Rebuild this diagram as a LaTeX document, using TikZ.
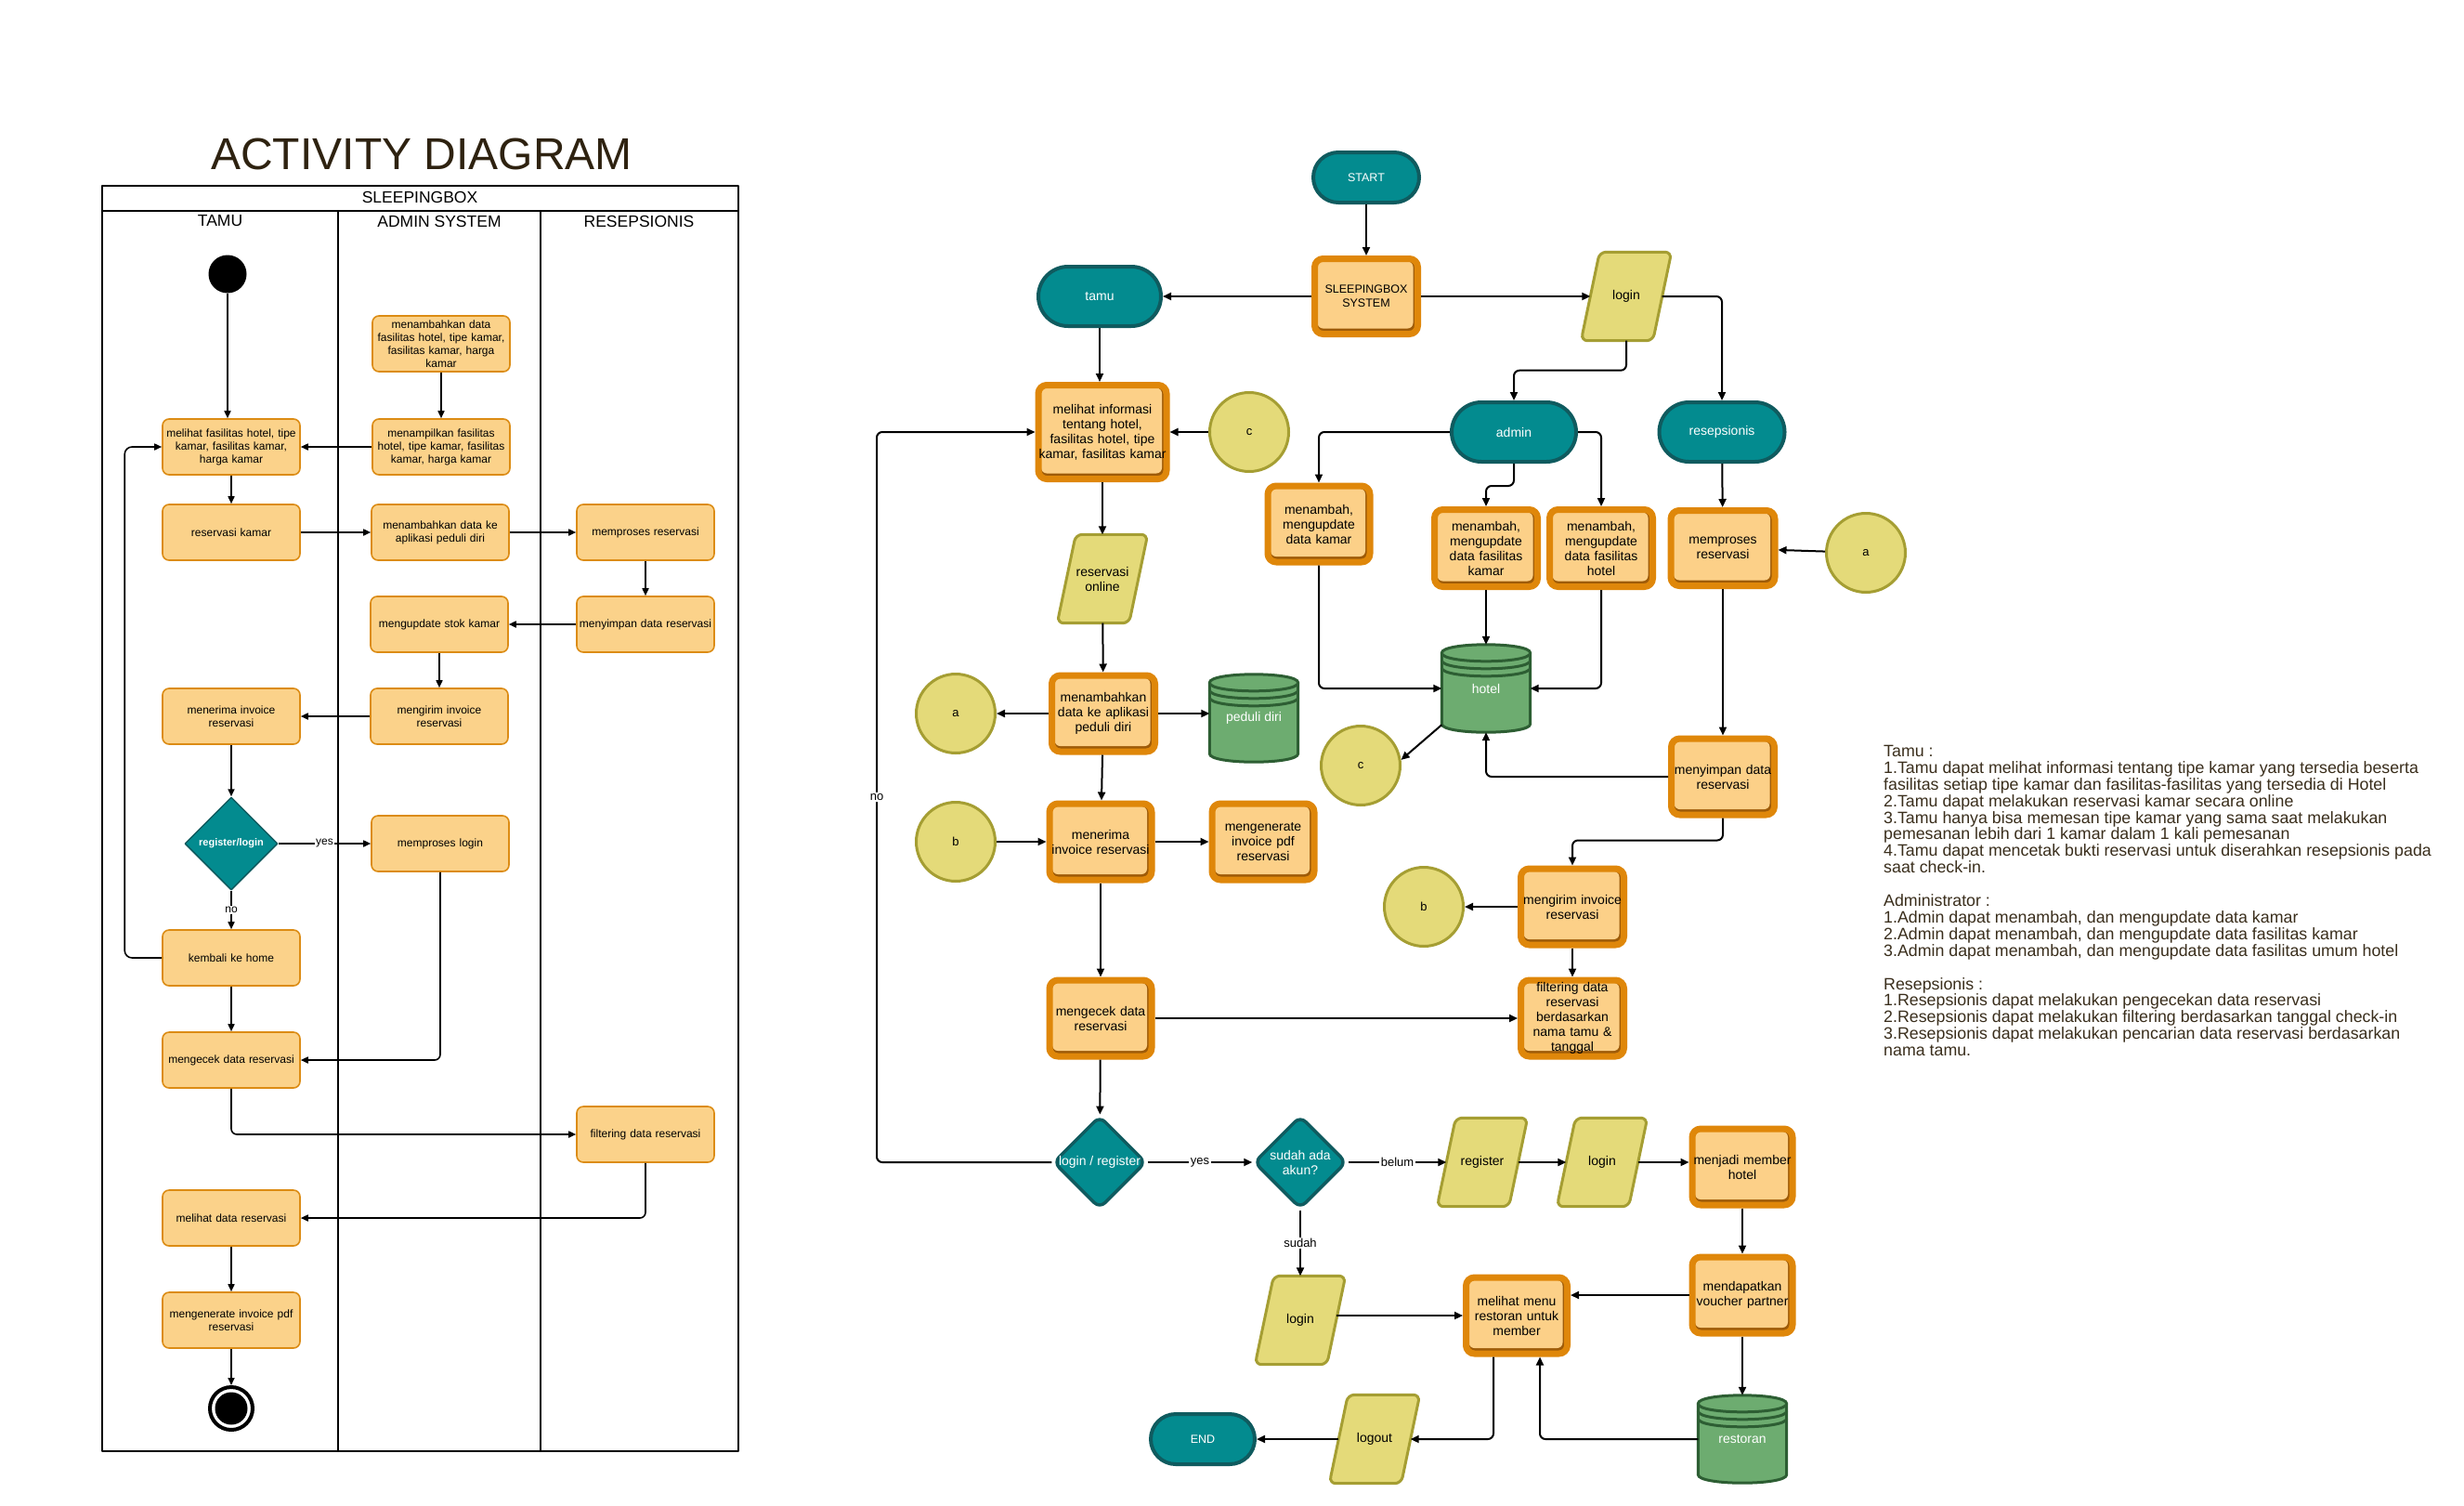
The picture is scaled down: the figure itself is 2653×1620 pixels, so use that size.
\documentclass[tikz,border=0pt]{standalone}
\usepackage{fontspec}
\setmainfont{Liberation Sans}
\usetikzlibrary{arrows.meta,shapes.geometric,calc,backgrounds}

\definecolor{actFill}{HTML}{FBD28A}
\definecolor{actLine}{HTML}{DC8C14}
\definecolor{boxFill}{HTML}{FCD088}
\definecolor{boxLine}{HTML}{DF870A}
\definecolor{boxShade}{HTML}{9E5B08}
\definecolor{tealFill}{HTML}{038B8F}
\definecolor{tealLine}{HTML}{0F5B5F}
\definecolor{ylwFill}{HTML}{E4DA79}
\definecolor{ylwLine}{HTML}{A59E33}
\definecolor{grnFill}{HTML}{6DAC70}
\definecolor{grnLine}{HTML}{2D5E33}
\definecolor{titleCol}{HTML}{2E2210}
\definecolor{noteCol}{HTML}{3A2E1C}

\newcommand\FontLeft{\fontsize{12}{14}\selectfont}
\newcommand\FontRight{\fontsize{14}{16}\selectfont}

\tikzset{
  act/.style={draw=actLine, line width=1.6pt, fill=actFill, rounded corners=7pt,
    text width=148pt, minimum height=60pt, inner sep=0pt, align=center, font=\FontLeft},
  obox/.style 2 args={fill=boxFill, draw=boxLine, line width=7pt, rounded corners=9pt,
    inner sep=0pt, align=center, text width=#1pt, minimum height=#2pt, font=\FontRight,
    path picture={
      \fill[boxShade, rounded corners=6pt]
        ([shift={(3pt,3pt)}]path picture bounding box.south west) rectangle
        ([shift={(-3pt,-3pt)}]path picture bounding box.north east);
      \fill[boxFill, rounded corners=6pt]
        ([shift={(3pt,6pt)}]path picture bounding box.south west) rectangle
        ([shift={(-5pt,-3pt)}]path picture bounding box.north east);}},
  terminal/.style n args={3}{fill=tealFill, draw=tealLine, line width=4pt, text=white,
    inner sep=0pt, minimum width=#1pt, minimum height=#2pt, rounded corners=#3pt, font=\FontRight},
  conn/.style={circle, fill=ylwFill, draw=ylwLine, line width=3pt, minimum size=85pt,
    inner sep=0pt, font=\fontsize{13}{15}\selectfont},
  rdia/.style={diamond, aspect=1, fill=tealFill, draw=tealLine, line width=3.5pt,
    rounded corners=8pt, minimum width=100pt, minimum height=100pt, inner sep=0pt},
  diatext/.style={text=white, align=center, font=\FontRight, inner sep=0pt},
  ldia/.style={diamond, aspect=1, fill=tealFill, draw=tealLine, line width=1.5pt,
    minimum width=100pt, minimum height=100pt, inner sep=0pt, text=white,
    font=\fontsize{11}{13}\selectfont\bfseries},
  slantnode/.style={minimum width=77pt, minimum height=95pt, inner sep=0pt, align=center, font=\FontRight},
  slantline/.style={fill=ylwFill, draw=ylwLine, line width=3pt, rounded corners=7pt},
  dbnode/.style={minimum width=95pt, minimum height=94pt, inner sep=0pt, text=white, font=\FontRight},
  dbbody/.style={fill=grnFill, draw=grnLine, line width=3pt},
  dbring/.style={draw=grnLine, line width=3pt},
  larr/.style={draw=black, line width=1.6pt, -{Triangle[length=8pt,width=7pt]}},
  rarr/.style={draw=black, line width=2pt, -{Triangle[length=9pt,width=8pt]}},
  rc/.style={rounded corners=6pt},
  lbl/.style={fill=white, inner sep=1.5pt, font=\fontsize{12}{14}\selectfont},
  rlbl/.style={fill=white, inner sep=1.5pt, font=\fontsize{13}{15}\selectfont},
  pool/.style={draw=black, line width=2pt},
}

% slanted data box drawn behind a named node
\newcommand\slantbox[1]{%
  \begin{pgfonlayer}{background}
    \draw[slantline] ($(#1.north west)+(10,0)$) -- ($(#1.north east)+(10,0)$)
      -- ($(#1.south east)+(-10,0)$) -- ($(#1.south west)+(-10,0)$) -- cycle;
  \end{pgfonlayer}}

% stacked data store drawn behind a named node
\newcommand\dbcyl[1]{%
  \begin{pgfonlayer}{background}
    \path[dbbody] ($(#1.north west)+(0,9)$) -- ($(#1.south west)+(0,-9)$)
      .. controls +(0,12) and +(0,12) .. ($(#1.south east)+(0,-9)$)
      -- ($(#1.north east)+(0,9)$)
      .. controls +(0,-12) and +(0,-12) .. ($(#1.north west)+(0,9)$) -- cycle;
    \draw[dbring] ($(#1.north west)+(0,9)$) .. controls +(0,12) and +(0,12) .. ($(#1.north east)+(0,9)$);
    \draw[dbring] ($(#1.north west)+(0,17)$) .. controls +(0,12) and +(0,12) .. ($(#1.north east)+(0,17)$);
    \draw[dbring] ($(#1.north west)+(0,25)$) .. controls +(0,12) and +(0,12) .. ($(#1.north east)+(0,25)$);
  \end{pgfonlayer}}

\begin{document}
\begin{tikzpicture}[x=1pt, y=-1pt, line join=round]
\begin{pgfonlayer}{background}
  \fill[white] (0,0) rectangle (2653,1620);
\end{pgfonlayer}
\useasboundingbox (0,0) rectangle (2653,1620);

%% ---------------- activity diagram ----------------
\node[text=titleCol, font=\fontsize{48}{54}\selectfont, inner sep=0pt] (title) at (454,166) {ACTIVITY DIAGRAM};

\draw[pool] (110,200) rectangle (795,1562);
\draw[pool] (110,227) -- (795,227);
\draw[pool] (364,227) -- (364,1562);
\draw[pool] (582,227) -- (582,1562);
\node[font=\fontsize{17.5}{20}\selectfont, inner sep=0pt] (poolName) at (452,212) {SLEEPINGBOX};
\node[font=\fontsize{17.5}{20}\selectfont, inner sep=0pt] (laneTamu) at (237,238) {TAMU};
\node[font=\fontsize{17.5}{20}\selectfont, inner sep=0pt] (laneAdmin) at (473,238) {ADMIN SYSTEM};
\node[font=\fontsize{17.5}{20}\selectfont, inner sep=0pt] (laneResep) at (688,238) {RESEPSIONIS};

\node[circle, fill=black, minimum size=41pt, inner sep=0pt] (lStart) at (245,295) {};
\node[act] (lA1) at (249,481) {melihat fasilitas hotel, tipe\\kamar, fasilitas kamar,\\harga kamar};
\node[act] (lA2) at (249,573) {reservasi kamar};
\node[act] (lB0) at (475,370) {menambahkan data\\fasilitas hotel, tipe kamar,\\fasilitas kamar, harga\\kamar};
\node[act] (lB1) at (475,481) {menampilkan fasilitas\\hotel, tipe kamar, fasilitas\\kamar, harga kamar};
\node[act] (lB2) at (474,573) {menambahkan data ke\\aplikasi peduli diri};
\node[act] (lC1) at (695,573) {memproses reservasi};
\node[act] (lC2) at (695,672) {menyimpan data reservasi};
\node[act] (lB3) at (473,672) {mengupdate stok kamar};
\node[act] (lB4) at (473,771) {mengirim invoice\\reservasi};
\node[act] (lA3) at (249,771) {menerima invoice\\reservasi};
\node[ldia] (lD) at (249,908) {register/login};
\node[act] (lB5) at (474,908) {memproses login};
\node[act] (lA4) at (249,1031) {kembali ke home};
\node[act] (lA5) at (249,1141) {mengecek data reservasi};
\node[act] (lC3) at (695,1221) {filtering data reservasi};
\node[act] (lA6) at (249,1311) {melihat data reservasi};
\node[act] (lA7) at (249,1421) {mengenerate invoice pdf\\reservasi};
\node[circle, draw=black, line width=4pt, fill=white, minimum size=46pt, inner sep=0pt] (lEnd) at (249,1516) {};
\fill[black] (lEnd.center) circle[radius=17.5pt];

\draw[larr] (lStart) -- (lStart |- lA1.north);
\draw[larr] (lB0) -- (lB1);
\draw[larr] (lB1) -- (lA1);
\draw[larr] (lA1) -- (lA2);
\draw[larr] (lA2) -- (lB2);
\draw[larr] (lB2) -- (lC1);
\draw[larr] (lC1) -- (lC2);
\draw[larr] (lC2) -- (lB3);
\draw[larr] (lB3) -- (lB4);
\draw[larr] (lB4) -- (lA3);
\draw[larr] (lA3) -- (lD);
\draw[larr] (lD) -- node[lbl] {yes} (lB5);
\draw[larr] (lD) -- node[lbl] {no} (lA4);
\draw[larr, rounded corners=8pt] (lA4.west) -- ++(-40,0) |- (lA1.west);
\draw[larr] (lA4) -- (lA5);
\draw[larr, rc] (lB5.south) |- (lA5.east);
\draw[larr, rc] (lA5.south) |- (lC3.west);
\draw[larr, rc] (lC3.south) |- (lA6.east);
\draw[larr] (lA6) -- (lA7);
\draw[larr] (lA7) -- (lEnd);

%% ---------------- system flowchart ----------------
\node[terminal={114}{54}{27}, font=\fontsize{12.5}{15}\selectfont] (start) at (1471,191) {START};
\node[obox={111}{81}, font=\fontsize{12.5}{15}\selectfont] (sleep) at (1471,319) {SLEEPINGBOX\\SYSTEM};
\node[terminal={132}{64}{32}] (tamu) at (1184,319) {tamu};
\node[slantnode] (login1) at (1751,319) {login};
\node[obox={138}{101}] (melihat) at (1187,465) {melihat informasi\\tentang hotel,\\fasilitas hotel, tipe\\kamar, fasilitas kamar};
\node[conn] (cTop) at (1345,465) {c};
\node[slantnode] (resOnline) at (1187,623) {reservasi\\online};
\node[terminal={134}{64}{32}] (admin) at (1630,465) {admin};
\node[terminal={135}{64}{32}] (resep) at (1854,465) {resepsionis};
\node[obox={110}{82}] (mKamar) at (1420,564) {menambah,\\mengupdate\\data kamar};
\node[obox={111}{83}] (mFasK) at (1600,590) {menambah,\\mengupdate\\data fasilitas\\kamar};
\node[obox={111}{83}] (mFasH) at (1724,590) {menambah,\\mengupdate\\data fasilitas\\hotel};
\node[obox={112}{81}] (proses) at (1855,590) {memproses\\reservasi};
\node[conn] (aR) at (2009,595) {a};
\node[dbnode] (hotel) at (1600,741) {hotel};
\node[dbnode] (peduli) at (1350,773) {peduli diri};
\node[conn] (cMid) at (1465,824) {c};
\node[obox={111}{82}] (simpan) at (1855,836) {menyimpan data\\reservasi};
\node[obox={111}{82}] (kirim) at (1693,976) {mengirim invoice\\reservasi};
\node[conn] (bR) at (1533,976) {b};
\node[obox={111}{82}] (filterR) at (1693,1096) {filtering data\\reservasi\\berdasarkan\\nama tamu \&\\tanggal};
\node[obox={111}{82}] (tambahApp) at (1188,768) {menambahkan\\data ke aplikasi\\peduli diri};
\node[conn] (aL) at (1029,768) {a};
\node[conn] (bL) at (1029,906) {b};
\node[obox={110}{82}] (terima) at (1185,906) {menerima\\invoice reservasi};
\node[obox={110}{82}] (generate) at (1360,906) {mengenerate\\invoice pdf\\reservasi};
\node[obox={110}{82}] (cekR) at (1185,1096) {mengecek data\\reservasi};
\node[rdia] (dLogin) at (1184,1251) {};
\node[diatext] (dLoginT) at (dLogin) {login / register};
\node[rdia] (dAkun) at (1400,1251) {};
\node[diatext] (dAkunT) at (dAkun) {sudah ada\\akun?};
\node[slantnode] (register) at (1596,1251) {register};
\node[slantnode] (login2) at (1725,1251) {login};
\node[obox={108}{82}] (member) at (1876,1256) {menjadi member\\hotel};
\node[obox={108}{82}] (voucher) at (1876,1394) {mendapatkan\\voucher partner};
\node[obox={109}{82}] (menu) at (1633,1416) {melihat menu\\restoran untuk\\member};
\node[slantnode] (login3) at (1400,1421) {login};
\node[slantnode] (logout) at (1480,1549) {logout};
\node[terminal={112}{54}{27}, font=\fontsize{12.5}{15}\selectfont] (finish) at (1295,1549) {END};
\node[dbnode] (restoran) at (1876,1549) {restoran};

\slantbox{login1}
\slantbox{resOnline}
\slantbox{register}
\slantbox{login2}
\slantbox{login3}
\slantbox{logout}
\dbcyl{hotel}
\dbcyl{peduli}
\dbcyl{restoran}

\coordinate (loopX) at (944,1251);

\draw[rarr] (start) -- (sleep);
\draw[rarr] (sleep) -- (tamu);
\draw[rarr] (sleep) -- (login1);
\draw[rarr, rc] (login1.south) -- ++(0,32) -| (admin.north);
\draw[rarr, rc] (login1.east) -| (resep.north);
\draw[rarr] (tamu.south) -- (tamu.south |- melihat.north);
\draw[rarr] (cTop) -- (melihat);
\draw[rarr] (melihat) -- (resOnline);
\draw[rarr] (resOnline) -- (tambahApp);
\draw[rarr] (tambahApp) -- (aL);
\draw[rarr] (tambahApp.east) -- (tambahApp.east -| peduli.west);
\draw[rarr] (tambahApp) -- (terima);
\draw[rarr] (bL) -- (terima);
\draw[rarr] (terima) -- (generate);
\draw[rarr] (terima) -- (cekR);
\draw[rarr] (cekR) -- (filterR);
\draw[rarr] (cekR) -- (dLogin);
\draw[rarr, rc] (dLogin.west) -- (loopX) -- node[rlbl] {no} (loopX |- melihat.west) -- (melihat.west);
\draw[rarr] (dLogin) -- node[rlbl] {yes} (dAkun);
\draw[rarr] (dAkun) -- node[rlbl] {belum} (register);
\draw[rarr] (register) -- (login2);
\draw[rarr] (login2.east) -- (login2.east -| member.west);
\draw[rarr] (member) -- (voucher);
\draw[rarr] (voucher.west) -- (voucher.west -| menu.east);
\draw[rarr] (voucher) -- (restoran);
\draw[rarr, rc] (restoran.west) -| ([xshift=25pt]menu.south);
\draw[rarr, rc] ([xshift=-25pt]menu.south) |- (logout.east);
\draw[rarr] (logout) -- (finish);
\draw[rarr] (dAkun) -- node[rlbl] {sudah} (login3);
\draw[rarr] (login3.east |- menu.west) -- (menu.west);
\draw[rarr, rc] (admin.west) -| (mKamar.north);
\draw[rarr, rc] (admin.south) -- ++(0,24) -| (mFasK.north);
\draw[rarr, rc] (admin.east) -| (mFasH.north);
\draw[rarr] (resep) -- (proses);
\draw[rarr] (aR) -- (proses);
\draw[rarr, rc] (mKamar.south) |- (hotel.west);
\draw[rarr] (mFasK) -- (hotel);
\draw[rarr, rc] (mFasH.south) |- (hotel.east);
\draw[rarr] (proses) -- (simpan);
\draw[rarr, rc] (simpan.west) -| (hotel.south);
\draw[rarr] ([yshift=8pt]hotel.south west) -- (cMid.8);
\draw[rarr, rc] (simpan.south) -- ++(0,24) -| (kirim.north);
\draw[rarr] (kirim) -- (bR);
\draw[rarr] (kirim) -- (filterR);

%% ---------------- notes ----------------
\node[anchor=north west, align=left, inner sep=0pt, text=noteCol,
      font=\fontsize{17.8}{17.9}\selectfont] (notes) at (2028,802) {%
Tamu :\\
1.Tamu dapat melihat informasi tentang tipe kamar yang tersedia beserta\\
fasilitas setiap tipe kamar dan fasilitas-fasilitas yang tersedia di Hotel\\
2.Tamu dapat melakukan reservasi kamar secara online\\
3.Tamu hanya bisa memesan tipe kamar yang sama saat melakukan\\
pemesanan lebih dari 1 kamar dalam 1 kali pemesanan\\
4.Tamu dapat mencetak bukti reservasi untuk diserahkan resepsionis pada\\
saat check-in.\\[17.9pt]
Administrator :\\
1.Admin dapat menambah, dan mengupdate data kamar\\
2.Admin dapat menambah, dan mengupdate data fasilitas kamar\\
3.Admin dapat menambah, dan mengupdate data fasilitas umum hotel\\[17.9pt]
Resepsionis :\\
1.Resepsionis dapat melakukan pengecekan data reservasi\\
2.Resepsionis dapat melakukan filtering berdasarkan tanggal check-in\\
3.Resepsionis dapat melakukan pencarian data reservasi berdasarkan\\
nama tamu.};
\end{tikzpicture}
\end{document}
